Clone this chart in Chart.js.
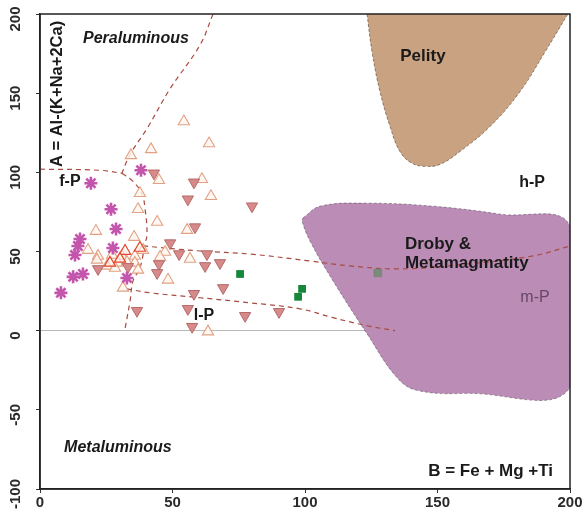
<!DOCTYPE html>
<html>
<head>
<meta charset="utf-8">
<script src="https://cdn.jsdelivr.net/npm/chart.js@4.4.1/dist/chart.umd.min.js"></script>
<style>
  html, body { margin: 0; padding: 0; background: #fff; }
</style>
</head>
<body>
<canvas id="graph" width="584" height="510"></canvas>
<script>
// axis ticks
const xTicks = [0, 50, 100, 150, 200];
const yTicks = [-100, -50, 0, 50, 100, 150, 200];

// samples [B, A]
const asterisks = [
  [7.9, 23.9], [12.5, 34], [16.2, 35.8], [13.2, 47.8], [14.3, 53.5], [15.1, 57.9],
  [19.2, 93.1], [26.8, 76.7], [28.7, 64.2], [27.5, 52.2], [38.1, 101.3], [32.8, 33.3]
];
const openTriangles = [
  [54.3, 132.1], [63.8, 118.2], [41.9, 114.5], [34.3, 110.7], [44.9, 95], [61.1, 95.6],
  [64.5, 84.9], [37.7, 86.8], [37, 76.7], [44.2, 68.6], [21.1, 62.9], [35.5, 59.1],
  [55.5, 63.5], [47.2, 49.7], [56.6, 45.3], [48.3, 32.1], [31.3, 27], [63.4, -0.6],
  [18.1, 50.9], [21.9, 47.2], [27.2, 47.8], [30.9, 47.2], [35.8, 47.2], [29.4, 42.8],
  [32.8, 43.4], [35.8, 42.8], [38.9, 50.9], [21.5, 44.7], [25.3, 40.9], [37, 38.4],
  [28.3, 39.6], [45.3, 46.5]
];
const redTriangles = [[32.1, 50.3], [37.7, 52.2], [26.4, 42.8], [30.2, 45.3]];
const downTriangles = [
  [43, 99.4], [58.1, 93.7], [55.8, 83], [80, 78.6], [58.5, 65.4], [49.1, 55.3],
  [52.5, 48.4], [63, 48.4], [67.9, 42.8], [62.3, 40.9], [44.9, 42.1], [69.1, 27],
  [58.1, 23.3], [55.8, 13.8], [77.4, 9.4], [90.2, 11.9], [57.4, 2.5], [21.9, 39],
  [33.2, 40.3], [36.6, 12.6], [44.2, 36.5]
];
const greenSquares = [[75.5, 35.8], [98.9, 26.4], [97.4, 21.4]];
const greySquares = [[127.5, 36.5]];

// field outlines
const pelity = [
  [123.4, 200], [125.3, 176.1], [128.3, 150.9], [132.1, 128.9], [135.8, 113.2], [140.4, 105.7],
  [145.3, 103.8], [150.9, 105], [158.5, 113.2], [169.8, 128.9], [181.1, 150.9], [190.6, 176.1],
  [199.2, 200]
];
const droby = [
  [99.2, 71.1], [105.7, 78.6], [123.4, 80.5], [148.3, 78.6], [173.6, 73.6], [200, 66],
  [200, -35.8], [161.1, -39.6], [142.3, -37.7], [134.7, -29.6], [123.4, -1.9], [110.6, 31.4],
  [101.9, 56.6], [98.9, 69.2], [99.2, 71.1]
];

// dashed boundaries
const lineTopLeft = [[0, 102], [22.6, 101.3], [30.9, 99.4]];
const lineTopCurve = [[65.3, 200], [60.4, 180.5], [49.1, 152.8], [40.4, 127.7], [34, 111.3], [30.9, 99.4]];
const lineBulge = [
  [30.9, 99.4], [35.1, 94.3], [38.5, 86.2], [39.6, 77.4], [40.4, 61], [39.6, 54.7],
  [37.7, 39.6], [35.1, 31.4], [34, 18.9], [32.1, 1.3]
];
const lineUpper = [
  [38.9, 53.5], [60.4, 50.3], [79.2, 48.4], [101.9, 44], [117, 40.9], [135.8, 39],
  [161.1, 42.1], [186, 47.2], [200, 53.5]
];
const lineLower = [
  [32.8, 26.4], [41.5, 23.9], [60.4, 20.8], [79.2, 17.6], [98.1, 13.8], [110.6, 8.2],
  [123.4, 3.1], [134, 0]
];

// labels placed in data units
const labels = [
  { text: 'Peraluminous', x: 36.2, y: 184.3, font: 'italic bold 16px "Liberation Sans"' },
  { text: 'Pelity', x: 144.5, y: 173, font: 'bold 17px "Liberation Sans"' },
  { text: 'h-P', x: 185.7, y: 93.7, font: 'bold 16px "Liberation Sans"' },
  { text: 'f-P', x: 11.3, y: 94.3, font: 'bold 16px "Liberation Sans"' },
  { text: 'Droby &', x: 137.7, y: 54.7, font: 'bold 17px "Liberation Sans"', align: 'left' },
  { text: 'Metamagmatity', x: 137.7, y: 42.8, font: 'bold 17px "Liberation Sans"', align: 'left' },
  { text: 'm-P', x: 186.8, y: 20.8, font: '16px "Liberation Sans"', color: '#674766' },
  { text: 'l-P', x: 61.9, y: 9.4, font: 'bold 16px "Liberation Sans"' },
  { text: 'Metaluminous', x: 9.1, y: -73.6, font: 'italic bold 16px "Liberation Sans"', align: 'left' },
  { text: 'B = Fe + Mg +Ti', x: 193.6, y: -88.7, font: 'bold 17px "Liberation Sans"', align: 'right' }
];
const yTitle = 'A = Al-(K+Na+2Ca)';

function pts(arr){
  return arr.map(function(p){ return { x: p[0], y: p[1] }; });
}

function field(data, color, edge){
  return {
    data: pts(data), showLine: true, fill: 'shape', backgroundColor: color,
    borderColor: edge, borderWidth: 0.8, borderDash: [3, 2], tension: 0.4,
    pointRadius: 0, order: 10
  };
}

function dashed(data){
  return {
    data: pts(data), showLine: true, fill: false, borderColor: '#a84a40',
    borderWidth: 1.2, borderDash: [5, 4], tension: 0.4, pointRadius: 0, order: 5
  };
}

function markers(data, style, fill, stroke, radius, width, rot){
  return {
    data: pts(data), showLine: false, pointStyle: style, pointRadius: radius,
    pointBackgroundColor: fill, pointBorderColor: stroke, pointBorderWidth: width,
    pointRotation: rot || 0, order: 1
  };
}

const frame = {
  id: 'frame',
  afterDraw: function(chart){
    var a = chart.chartArea, ctx = chart.ctx;
    ctx.save();
    ctx.strokeStyle = '#222';
    ctx.lineWidth = 1.5;
    ctx.strokeRect(a.left, a.top, a.right - a.left, a.bottom - a.top);
    ctx.restore();
  }
};

const texts = {
  id: 'texts',
  afterDatasetsDraw: function(chart){
    var ctx = chart.ctx, xs = chart.scales.x, ys = chart.scales.y;
    ctx.save();
    ctx.textBaseline = 'middle';
    labels.forEach(function(l){
      ctx.font = l.font;
      ctx.fillStyle = l.color || '#1a1a1a';
      ctx.textAlign = l.align || 'center';
      ctx.fillText(l.text, xs.getPixelForValue(l.x), ys.getPixelForValue(l.y));
    });
    // y title sits inside the plot
    ctx.translate(xs.getPixelForValue(6.6), ys.getPixelForValue(149.5));
    ctx.rotate(-Math.PI / 2);
    ctx.font = 'bold 16.5px "Liberation Sans"';
    ctx.textAlign = 'center';
    ctx.fillStyle = '#1a1a1a';
    ctx.fillText(yTitle, 0, 0);
    ctx.restore();
  }
};

const ctx = document.getElementById('graph');
const chart = new Chart(ctx, {
  type: 'scatter',
  data: {
    datasets: [
      markers(asterisks, 'star', '#c455ad', '#c455ad', 6.5, 2.6),
      markers(greenSquares, 'rect', '#16873a', '#16873a', 5.5, 0),
      markers(greySquares, 'rect', '#7c8a7c', '#6f7d6f', 5.5, 0.5),
      markers(downTriangles, 'triangle', '#d78a8a', '#b56a6a', 6.5, 1, 180),
      markers(redTriangles, 'triangle', 'rgba(255,240,230,0.6)', '#e5452e', 6.5, 1.2),
      markers(openTriangles, 'triangle', 'rgba(255,246,238,0.85)', '#e2a183', 6.5, 1.1),
      dashed(lineTopLeft),
      dashed(lineTopCurve),
      dashed(lineBulge),
      dashed(lineUpper),
      dashed(lineLower),
      field(pelity, '#c9a381', 'rgba(70,50,40,0.7)'),
      field(droby, '#bb8db6', 'rgba(70,50,70,0.6)')
    ]
  },
  options: {
    responsive: false,
    animation: false,
    layout: { padding: { top: 12, right: 14, left: 0, bottom: 0 } },
    plugins: { legend: { display: false }, tooltip: { enabled: false } },
    scales: {
      x: {
        type: 'linear', min: 0, max: 200,
        afterBuildTicks: function(s){ s.ticks = xTicks.map(function(v){ return { value: v }; }); },
        afterFit: function(s){ s.height = 21; },
        grid: { drawOnChartArea: false, tickLength: 4, tickColor: '#333' },
        border: { display: true, color: '#222', width: 1.5 },
        ticks: { padding: 1, color: '#2a2a2a', font: { family: 'Liberation Sans', size: 15, weight: 'bold' } }
      },
      y: {
        type: 'linear', min: -100, max: 200,
        afterBuildTicks: function(s){ s.ticks = yTicks.map(function(v){ return { value: v }; }); },
        afterFit: function(s){ s.width = 40; },
        grid: {
          color: function(c){ return c.tick && c.tick.value === 0 ? '#b8b8b8' : 'rgba(0,0,0,0)'; },
          lineWidth: 1, tickLength: 4, tickColor: '#333'
        },
        border: { display: true, color: '#222', width: 1.5 },
        ticks: {
          minRotation: 90, maxRotation: 90, crossAlign: 'center', padding: 5, labelOffset: 5,
          color: '#2a2a2a', font: { family: 'Liberation Sans', size: 15, weight: 'bold' }
        }
      }
    }
  },
  plugins: [frame, texts]
});
</script>
</body>
</html>
